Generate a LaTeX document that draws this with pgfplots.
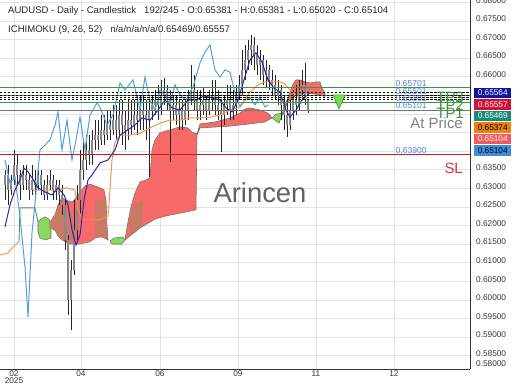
\documentclass[border=0pt]{standalone}
\usepackage{pgfplots}
\pgfplotsset{compat=1.18}
\usepackage{pgfplotstable}
\usepackage{fontspec}
\setmainfont{Liberation Sans}
\definecolor{cloudred}{RGB}{250,105,105}
\definecolor{cloudbrown}{RGB}{200,122,100}
\definecolor{cloudgreen}{RGB}{140,215,100}
\definecolor{cloudedge}{RGB}{105,125,95}
\definecolor{chikou}{RGB}{80,160,225}
\definecolor{tenkan}{RGB}{40,40,170}
\definecolor{kijun}{RGB}{240,150,80}
\definecolor{tpgreen}{RGB}{60,150,60}
\definecolor{lblblue}{RGB}{90,130,210}
\definecolor{slred}{RGB}{200,30,30}
\definecolor{boxnavy}{RGB}{20,20,160}
\definecolor{boxcrimson}{RGB}{210,16,58}
\definecolor{boxteal}{RGB}{26,138,122}
\definecolor{boxorange}{RGB}{240,127,16}
\definecolor{boxsalmon}{RGB}{240,90,90}
\definecolor{boxblue}{RGB}{60,141,224}
\definecolor{bodygray}{RGB}{135,135,135}

\pgfplotstableread{
x o h l c
5 0.6309 0.6349 0.6268 0.6336
8 0.6336 0.6362 0.6255 0.6295
11 0.6295 0.6336 0.6282 0.6322
14 0.6322 0.6403 0.6309 0.6362
17 0.6362 0.6389 0.6309 0.6336
20 0.6336 0.6349 0.6268 0.6309
23 0.6309 0.6362 0.6295 0.6336
26 0.6336 0.6362 0.6295 0.6322
29 0.6322 0.6336 0.6268 0.6295
32 0.6295 0.6362 0.6282 0.6322
35 0.6322 0.6349 0.6282 0.6309
38 0.6309 0.6349 0.6295 0.6336
41 0.6336 0.6349 0.6282 0.6309
44 0.6309 0.6322 0.6268 0.6282
47 0.6282 0.6336 0.6268 0.6309
50 0.6309 0.6349 0.6295 0.6322
53 0.6322 0.6336 0.6268 0.6295
56 0.6295 0.6322 0.6268 0.6309
59 0.6309 0.6322 0.6255 0.6282
62 0.6282 0.6309 0.6228 0.6255
65 0.6255 0.6268 0.6134 0.6161
68 0.6161 0.6174 0.5959 0.5999
71 0.5999 0.6107 0.5919 0.6080
74 0.6080 0.6268 0.6067 0.6188
77 0.6188 0.6309 0.6161 0.6268
80 0.6268 0.6403 0.6228 0.6349
83 0.6349 0.6430 0.6322 0.6376
86 0.6376 0.6443 0.6349 0.6403
89 0.6403 0.6443 0.6362 0.6389
92 0.6389 0.6457 0.6362 0.6430
95 0.6430 0.6483 0.6403 0.6443
98 0.6443 0.6483 0.6403 0.6430
101 0.6430 0.6497 0.6416 0.6457
104 0.6457 0.6497 0.6416 0.6443
107 0.6443 0.6510 0.6430 0.6470
110 0.6470 0.6510 0.6430 0.6457
113 0.6457 0.6524 0.6443 0.6483
116 0.6483 0.6524 0.6430 0.6457
119 0.6457 0.6537 0.6443 0.6497
122 0.6497 0.6537 0.6416 0.6470
125 0.6470 0.6510 0.6403 0.6457
128 0.6457 0.6537 0.6430 0.6483
131 0.6483 0.6537 0.6443 0.6470
134 0.6470 0.6537 0.6457 0.6497
137 0.6497 0.6551 0.6443 0.6483
140 0.6483 0.6551 0.6457 0.6510
143 0.6510 0.6551 0.6457 0.6497
146 0.6497 0.6537 0.6430 0.6483
149 0.6483 0.6537 0.6330 0.6510
152 0.6510 0.6551 0.6483 0.6524
155 0.6524 0.6564 0.6497 0.6537
158 0.6537 0.6578 0.6483 0.6524
161 0.6524 0.6591 0.6497 0.6551
164 0.6551 0.6596 0.6524 0.6564
167 0.6564 0.6578 0.6510 0.6537
170 0.6537 0.6564 0.6371 0.6510
173 0.6510 0.6551 0.6483 0.6524
176 0.6524 0.6551 0.6470 0.6497
179 0.6497 0.6537 0.6457 0.6510
182 0.6510 0.6537 0.6457 0.6483
185 0.6483 0.6537 0.6470 0.6510
188 0.6510 0.6564 0.6483 0.6537
191 0.6537 0.6631 0.6524 0.6564
194 0.6564 0.6604 0.6510 0.6537
197 0.6537 0.6564 0.6483 0.6510
200 0.6510 0.6564 0.6483 0.6524
203 0.6524 0.6572 0.6497 0.6537
206 0.6537 0.6551 0.6483 0.6510
209 0.6510 0.6564 0.6497 0.6537
212 0.6537 0.6591 0.6510 0.6551
215 0.6551 0.6591 0.6497 0.6524
218 0.6524 0.6564 0.6483 0.6510
221 0.6510 0.6537 0.6397 0.6497
224 0.6497 0.6551 0.6470 0.6524
227 0.6524 0.6578 0.6497 0.6537
230 0.6537 0.6578 0.6483 0.6510
233 0.6510 0.6564 0.6483 0.6524
236 0.6524 0.6578 0.6497 0.6551
239 0.6551 0.6604 0.6537 0.6578
242 0.6578 0.6672 0.6551 0.6618
245 0.6618 0.6685 0.6591 0.6645
248 0.6645 0.6698 0.6618 0.6672
251 0.6672 0.6712 0.6631 0.6685
254 0.6685 0.6707 0.6618 0.6658
257 0.6658 0.6685 0.6604 0.6631
260 0.6631 0.6672 0.6591 0.6645
263 0.6645 0.6658 0.6578 0.6604
266 0.6604 0.6645 0.6572 0.6618
269 0.6618 0.6631 0.6564 0.6591
272 0.6591 0.6618 0.6551 0.6578
275 0.6578 0.6604 0.6537 0.6551
278 0.6551 0.6591 0.6524 0.6564
281 0.6564 0.6578 0.6483 0.6524
284 0.6524 0.6551 0.6457 0.6497
287 0.6497 0.6537 0.6438 0.6470
290 0.6470 0.6537 0.6457 0.6510
293 0.6510 0.6564 0.6483 0.6537
296 0.6537 0.6578 0.6497 0.6524
299 0.6524 0.6591 0.6510 0.6564
302 0.6564 0.6618 0.6537 0.6578
305 0.6578 0.6637 0.6524 0.6543
308 0.65381 0.65381 0.65020 0.65104
}\candles

\begin{document}
\begin{tikzpicture}
\path[use as bounding box] (0,0) rectangle (520bp,-390bp);
\begin{axis}[
  at={(0,0)}, anchor=north west,
  scale only axis, width=470bp, height=369bp,
  xmin=0, xmax=470, ymin=0.5814, ymax=0.6806,
  axis x line*=bottom, axis y line*=right,
  axis line style={black!80, line width=0.8pt},
  xtick={14,81,160,238,316,394},
  xticklabels={{02\\[-2pt]2025},04,06,09,11,12},
  xticklabel style={align=center, font=\fontsize{8.3}{9}\selectfont, text=black!80, inner sep=1.5bp},
  ytick={0.585,0.59,0.595,0.6,0.605,0.61,0.615,0.62,0.625,0.63,0.635,0.66,0.665,0.67,0.675,0.68},
  extra y ticks={0.64,0.645,0.65,0.655},
  extra y tick labels={},
  extra y tick style={grid=major},
  scaled y ticks=false,
  yticklabel style={/pgf/number format/.cd, fixed, fixed zerofill, precision=5, assume math mode=true, /tikz/.cd, font=\fontsize{8.3}{9}\selectfont, text=black!80, inner sep=0pt, xshift=6bp, yshift=2bp},
  grid=major,
  major grid style={black!11, line width=0.4pt},
  major tick length=0pt,
  clip=true,
]
% ---- Ichimoku cloud ----
\addplot[fill=cloudgreen, draw=cloudedge, line width=0.6pt] coordinates {
(38,0.6209) (41,0.6217) (45,0.6223) (49,0.6217) (51,0.6199) (51,0.6166) (46,0.6161) (40,0.6166) (38,0.6182)} -- cycle;
\addplot[fill=cloudred, draw=cloudedge, line width=0.6pt] coordinates {
(50,0.6209) (55,0.6228) (58,0.6255) (62,0.6274) (66,0.6268) (72,0.6263) (76,0.6274) (80,0.6290) (85,0.6306) (90,0.6311) (95,0.6306) (100,0.6301) (104,0.6295) (106,0.6268) (107,0.6201) (108,0.6161) (100,0.6172) (95,0.6166) (90,0.6156) (80,0.6150) (70,0.6150) (62,0.6161) (58,0.6172) (55,0.6188) (50,0.6193)} -- cycle;
\addplot[fill=cloudbrown, draw=none] coordinates {
(50,0.6209) (55,0.6231) (60,0.6250) (66,0.6242) (72,0.6231) (76,0.6161) (62,0.6161) (55,0.6185) (50,0.6193)} -- cycle;
\addplot[fill=cloudbrown, draw=none] coordinates {
(95,0.6268) (106,0.6268) (107,0.6201) (106,0.6169) (95,0.6166)} -- cycle;
\addplot[fill=cloudgreen, draw=cloudedge, line width=0.6pt] coordinates {
(110,0.6158) (114,0.6166) (123,0.6169) (125,0.6161) (122,0.6150) (112,0.6150)} -- cycle;
\addplot[fill=cloudred, draw=cloudedge, line width=0.6pt] coordinates {
(125,0.6161) (128,0.6209) (131,0.6250) (135,0.6287) (140,0.6317) (146,0.6322) (150,0.6328) (152,0.6403) (155,0.6430) (160,0.6449) (170,0.6457) (180,0.6465) (188,0.6462) (192,0.6451) (197,0.6446) (200,0.6473) (215,0.6478) (230,0.6489) (240,0.6502) (245,0.6513) (250,0.6516) (260,0.6510) (268,0.6502) (272,0.6489) (265,0.6478) (250,0.6473) (230,0.6467) (200,0.6462) (197,0.6443) (196,0.6242) (180,0.6233) (165,0.6225) (155,0.6217) (150,0.6209) (140,0.6193) (135,0.6182) (130,0.6172) (125,0.6161)} -- cycle;
\addplot[fill=cloudbrown, draw=none] coordinates {
(129,0.6209) (134,0.6258) (143,0.6268) (143,0.6199) (135,0.6184) (130,0.6174)} -- cycle;
\addplot[fill=cloudgreen, draw=cloudedge, line width=0.6pt] coordinates {
(272,0.6489) (276,0.6499) (283,0.6502) (279,0.6475)} -- cycle;
\addplot[fill=cloudred, draw=cloudedge, line width=0.6pt] coordinates {
(282,0.6499) (287,0.6537) (290,0.6559) (293,0.6580) (296,0.6591) (300,0.6591) (305,0.6586) (310,0.6583) (316,0.6586) (320,0.6586) (322,0.6569) (325,0.65557) (325,0.65469) (315,0.6553) (305,0.6556) (295,0.6548) (290,0.6537) (287,0.6526) (282,0.6499)} -- cycle;
% early senkou lines
\addplot[kijun, line width=0.9pt] coordinates {(0,0.6121) (8,0.6126) (14,0.6145) (19,0.6156)};
\addplot[cloudedge!80!green, line width=0.9pt] coordinates {(19,0.6156) (20,0.6247) (35,0.6247) (38,0.6209)};
% ---- candles ----
\addplot[draw=none, mark=none, forget plot, error bars/.cd, y dir=plus, y explicit, error mark=none,
  error bar style={draw=black!85, line width=0.6pt}]
  table[x=x, y=l, y error plus expr={\thisrow{h}-\thisrow{l}}] {\candles};
\addplot[draw=none, mark=none, forget plot, error bars/.cd, y dir=plus, y explicit, error mark=none,
  error bar style={draw=bodygray, line width=2.1pt}]
  table[x=x, y expr={min(\thisrow{o},\thisrow{c})}, y error plus expr={abs(\thisrow{c}-\thisrow{o})}] {\candles};
% ---- chikou ----
\addplot[chikou, line width=1pt] coordinates {
(5,0.6376) (10,0.6314) (15,0.6330) (20,0.6223) (25,0.6088) (28,0.5954) (32,0.6180) (35,0.6260) (40,0.6403) (45,0.6416) (50,0.6430) (55,0.6470) (58,0.6505) (62,0.6403) (67,0.6483) (72,0.6376) (76,0.6430) (80,0.6491) (85,0.6403) (90,0.6497) (97,0.6529) (100,0.6518) (107,0.6470) (113,0.6497) (120,0.6583) (125,0.6564) (133,0.6591) (140,0.6510) (145,0.6599) (150,0.6537) (155,0.6510) (160,0.6564) (165,0.6551) (170,0.6524) (175,0.6578) (180,0.6551) (186,0.6537) (193,0.6572) (200,0.6637) (205,0.6666) (210,0.6685) (215,0.6618) (220,0.6599) (225,0.6618) (230,0.6612) (235,0.6556) (240,0.6518) (245,0.6537) (250,0.6543) (255,0.6524) (260,0.6545) (265,0.6518) (268,0.6524)};
% ---- kijun ----
\addplot[kijun, line width=1pt] coordinates {
(33,0.6295) (60,0.6295) (66,0.6301) (75,0.6295) (78,0.6242) (83,0.6215) (100,0.6215) (108,0.6225) (110,0.6295) (112,0.6376) (115,0.6424) (120,0.6443) (130,0.6443) (140,0.6448) (150,0.6462) (160,0.6475) (170,0.6483) (180,0.6483) (190,0.6489) (200,0.6489) (210,0.6491) (220,0.6497) (230,0.6510) (238,0.6516) (245,0.6537) (250,0.6559) (258,0.6578) (265,0.6586) (280,0.6586) (285,0.6580) (290,0.6564) (295,0.6551) (300,0.6545) (310,0.65374)};
% ---- tenkan ----
\addplot[tenkan, line width=1pt] coordinates {
(5,0.6196) (10,0.6255) (15,0.6295) (20,0.6322) (24,0.6354) (28,0.6344) (32,0.6328) (38,0.6301) (45,0.6290) (52,0.6282) (58,0.6301) (64,0.6282) (68,0.6255) (72,0.6188) (76,0.6147) (80,0.6174) (84,0.6268) (88,0.6322) (92,0.6336) (100,0.6368) (108,0.6376) (115,0.6403) (120,0.6443) (128,0.6457) (135,0.6470) (142,0.6489) (150,0.6483) (158,0.6510) (165,0.6537) (172,0.6516) (180,0.6510) (188,0.6537) (196,0.6537) (204,0.6548) (212,0.6543) (220,0.6537) (226,0.6516) (232,0.6505) (238,0.6537) (244,0.6591) (250,0.6645) (256,0.6664) (262,0.6639) (268,0.6591) (274,0.6569) (280,0.6559) (286,0.6510) (290,0.6491) (296,0.6510) (302,0.6537) (306,0.6548) (310,0.65564)};
% ---- level lines ----
\addplot[tpgreen, line width=0.9pt] coordinates {(0,0.65701) (470,0.65701)};
\addplot[tpgreen, line width=0.9pt] coordinates {(0,0.65501) (470,0.65501)};
\addplot[tpgreen, line width=0.9pt] coordinates {(0,0.65301) (470,0.65301)};
\addplot[black!55, line width=0.8pt] coordinates {(0,0.65101) (470,0.65101)};
\addplot[black, line width=0.9pt, dash pattern=on 2.5pt off 1.5pt] coordinates {(0,0.65564) (470,0.65564)};
\addplot[black, line width=0.9pt, dash pattern=on 2.5pt off 1.5pt] coordinates {(0,0.65501) (470,0.65501)};
\addplot[black, line width=0.9pt, dash pattern=on 2.5pt off 1.5pt] coordinates {(0,0.65440) (470,0.65440)};
\addplot[black, line width=0.9pt, dash pattern=on 2.5pt off 1.5pt] coordinates {(0,0.65374) (470,0.65374)};
\addplot[slred, line width=0.9pt] coordinates {(0,0.639) (470,0.639)};
% ---- signal triangle ----
\addplot[fill=cloudgreen!80!green, draw=tpgreen, line width=0.6pt] coordinates {(333,0.6551) (345,0.6551) (339,0.6513)} -- cycle;
\end{axis}

% ---- texts (picture coordinates = reference pixels) ----
\node[anchor=west, inner sep=0, font=\fontsize{9.6}{11}\selectfont, text=black!85] at (8bp,-11bp)
  {AUDUSD - Daily - Candlestick\hspace{8bp}192/245 - O:0.65381 - H:0.65381 - L:0.65020 - C:0.65104};
\node[anchor=west, inner sep=0, font=\fontsize{9.6}{11}\selectfont, text=black!85] at (8bp,-30bp)
  {ICHIMOKU (9, 26, 52)\hspace{8bp}n/a/n/a/n/a/0.65469/0.65557};
\node[font=\fontsize{27.5}{30}\selectfont, text=black!62, inner sep=0] at (260bp,-193bp) {Arincen};
% line labels
\begin{scope}[every node/.style={anchor=south west, inner sep=0.5bp, font=\fontsize{8.6}{9}\selectfont, text=lblblue}]
\node at (395bp,-87.5bp) {0.65701};
\node at (395bp,-95bp) {0.65501};
\node at (395bp,-102.5bp) {0.65301};
\node at (395bp,-109bp) {0.65101};
\node at (395bp,-154bp) {0.63900};
\end{scope}
\begin{scope}[every node/.style={anchor=east, inner sep=0, font=\fontsize{15}{16}\selectfont}]
\node[text=tpgreen] at (464bp,-97bp) {TP3};
\node[text=tpgreen] at (464bp,-105bp) {TP2};
\node[text=tpgreen] at (464bp,-113bp) {TP1};
\node[text=black!50] at (463bp,-123bp) {At Price};
\node[text=slred!90!white] at (463bp,-168bp) {SL};
\end{scope}
% right-hand value boxes
\begin{scope}[every node/.style={anchor=west, inner sep=0, minimum width=37bp, minimum height=10.5bp, font=\fontsize{8.3}{9}\selectfont}]
\node[fill=boxnavy, text=white] at (474bp,-93bp) {0.65564};
\node[fill=boxcrimson, text=white] at (474bp,-104.5bp) {0.65557};
\node[fill=boxteal, text=white] at (474bp,-116bp) {0.65469};
\node[fill=boxorange, text=black] at (474bp,-127.5bp) {0.65374};
\node[fill=boxsalmon, text=white] at (474bp,-139bp) {0.65104};
\node[fill=boxblue, text=black] at (474bp,-150.5bp) {0.65104};
\end{scope}
\node[anchor=west, inner sep=0, font=\fontsize{8.3}{9}\selectfont, text=black!80] at (476bp,-364bp) {0.58000};
\end{tikzpicture}
\end{document}
